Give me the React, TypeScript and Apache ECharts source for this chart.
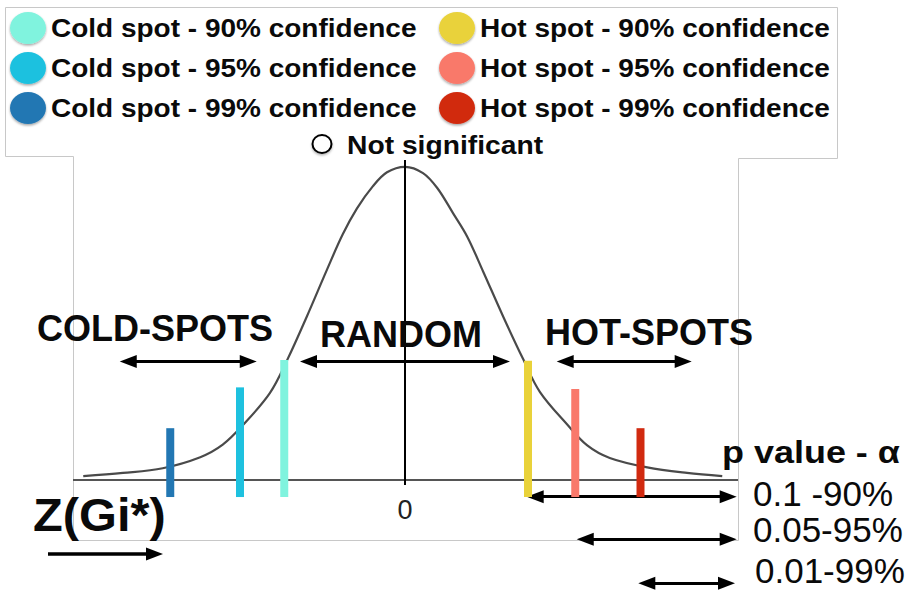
import React, { useEffect, useRef } from "react";
import * as echarts from "echarts";

// ---- data ----
// bell curve: z score and height of the curve
const curveZ = [-4.29, -3.76, -3.23, -2.73, -2.43, -2.16, -1.8, -1.57, -1.31, -1.04, -0.83, -0.64, -0.43, -0.24, 0, 0.24, 0.43, 0.64, 0.83, 1.04, 1.31, 1.57, 1.8, 2.16, 2.43, 2.73, 3.23, 3.76, 4.23];
const curveH = [0.005, 0.009, 0.015, 0.029, 0.045, 0.07, 0.111, 0.153, 0.208, 0.268, 0.313, 0.346, 0.374, 0.392, 0.399, 0.391, 0.372, 0.34, 0.31, 0.266, 0.208, 0.155, 0.112, 0.071, 0.044, 0.028, 0.016, 0.009, 0.005];

// confidence bars (90%, 95%, 99%)
const legendCold = ["Cold spot - 90% confidence", "Cold spot - 95% confidence", "Cold spot - 99% confidence"];
const legendHot = ["Hot spot - 90% confidence", "Hot spot - 95% confidence", "Hot spot - 99% confidence"];
const notSignificant = "Not significant";
const coldZ = [-1.61, -2.2, -3.13];
const hotZ = [1.64, 2.27, 3.14];
const coldTop = [0.153, 0.118, 0.066];
const hotTop = [0.152, 0.116, 0.066];
const barBottom = -0.0217;

// texts
const zeroTick = "0";
const regionLabels = ["COLD-SPOTS", "RANDOM", "HOT-SPOTS"];
const pTitle = "p value - α";
const pLabels = ["0.1 -90%", "0.05-95%", "0.01-99%"];
const axisTitle = "Z(Gi*)";

// ---- styles ----
const coldColors = ["#80f3de", "#1ec1df", "#2277b3"];
const hotColors = ["#e9d23a", "#f9796b", "#d12a10"];
const FONT = '"Liberation Sans", Arial, Helvetica, sans-serif';
const PX = 75; // px per z unit
const PY = 785; // px per height unit

function txt(text: string, x: number, y: number, size: number, bold: boolean, scaleX = 1) {
  return {
    type: "text",
    x,
    y,
    scaleX,
    z: 10,
    style: {
      text,
      fill: "#0a0a0a",
      fontSize: size,
      fontWeight: bold ? "bold" : "normal",
      fontFamily: FONT,
      textAlign: "left",
      verticalAlign: "middle",
      textVerticalAlign: "middle",
    },
  };
}

function dot(cx: number, cy: number, fill: string) {
  return {
    type: "ellipse",
    z: 10,
    shape: { cx, cy, rx: 18, ry: 16 },
    style: { fill, shadowBlur: 2, shadowColor: "rgba(0,0,0,0.35)", shadowOffsetY: 1.5 },
  };
}

function barSeries(name: string, z: number, top: number, color: string) {
  return {
    type: "custom",
    name,
    z: 5,
    clip: false,
    data: [[z, barBottom, top]],
    encode: { x: 0, y: [1, 2] },
    renderItem: (_p: any, api: any) => {
      const a = api.coord([api.value(0), api.value(2)]);
      const b = api.coord([api.value(0), api.value(1)]);
      return {
        type: "rect",
        shape: { x: a[0] - 4, y: a[1], width: 8, height: b[1] - a[1] },
        style: { fill: color },
      };
    },
  };
}

export default function App() {
  const ref = useRef<HTMLDivElement>(null);
  useEffect(() => {
    if (!ref.current) return;
    const chart = echarts.init(ref.current, undefined, { renderer: "svg" });
    const xMin = -405 / PX;
    const xMax = 510 / PX;
    const yMax = 480 / PY;
    const yMin = -110 / PY;
    const frameL = -332 / PX;
    const frameR = 333 / PX;

    const arrowStyle = { color: "#000", width: 3, type: "solid" as const };
    const arrows = [
      [-3.69, -2.09, 0.151],
      [-1.287, 1.287, 0.151],
      [2.136, 3.709, 0.151],
      [1.736, 4.309, -0.0213],
      [2.403, 4.309, -0.0756],
      [3.224, 4.287, -0.1316],
    ].map(([a, b, y]) => [
      { coord: [a, y], lineStyle: arrowStyle },
      { coord: [b, y] },
    ]);

    const graphic: any[] = [
      {
        type: "polyline",
        z: 0,
        shape: {
          points: [
            [5.5, 7.5], [837.5, 7.5], [837.5, 158.5], [738.5, 158.5], [738.5, 540.5],
            [73.5, 540.5], [73.5, 156.5], [5.5, 156.5], [5.5, 7.5],
          ],
        },
        style: { stroke: "#c8c8c8", lineWidth: 1, fill: null },
      },
    ];
    const rowsY = [29, 69, 109];
    legendCold.forEach((t, i) => {
      graphic.push(dot(28, rowsY[i] - 1, coldColors[i]));
      graphic.push(txt(t, 51, rowsY[i], 25, true, 1.12));
    });
    legendHot.forEach((t, i) => {
      graphic.push(dot(457, rowsY[i] - 1, hotColors[i]));
      graphic.push(txt(t, 480, rowsY[i], 25, true, 1.12));
    });
    graphic.push({
      type: "ellipse",
      z: 10,
      shape: { cx: 322, cy: 144, rx: 9.5, ry: 9 },
      style: { fill: "#fff", stroke: "#000", lineWidth: 2, shadowBlur: 2, shadowColor: "rgba(0,0,0,0.3)", shadowOffsetY: 1.5 },
    });
    graphic.push(txt(notSignificant, 347, 146, 25, true, 1.13));
    graphic.push(txt(regionLabels[0], 37, 328.5, 36, true));
    graphic.push(txt(regionLabels[1], 320, 334, 36, true));
    graphic.push(txt(regionLabels[2], 545, 332.5, 36, true));
    graphic.push(txt(pTitle, 722, 452.5, 31, true, 1.16));
    graphic.push(txt(pLabels[0], 753, 493.5, 35, false));
    graphic.push(txt(pLabels[1], 753, 529.5, 35, false));
    graphic.push(txt(pLabels[2], 755, 570.5, 35, false));
    graphic.push(txt(axisTitle, 33, 515, 46, true, 1.06));

    const series: any[] = [
      {
        type: "line",
        name: "Z(Gi*) distribution",
        data: curveZ.map((z, i) => [z, curveH[i]]),
        smooth: 0.35,
        showSymbol: false,
        clip: false,
        z: 3,
        lineStyle: { color: "#4a4a4a", width: 2.2 },
        markLine: {
          silent: true,
          animation: false,
          symbol: ["triangle", "triangle"],
          symbolSize: [13, 17],
          label: { show: false },
          data: [
            [
              { coord: [frameL, 0], symbol: "none", lineStyle: { color: "#555", width: 2, type: "solid" } },
              { coord: [frameR, 0], symbol: "none" },
            ],
            [
              {
                coord: [0, -0.0064],
                symbol: "none",
                lineStyle: { color: "#000", width: 2, type: "solid" },
                label: {
                  show: true,
                  position: "start",
                  distance: 11,
                  formatter: zeroTick,
                  fontSize: 27,
                  color: "#222",
                  fontFamily: FONT,
                },
              },
              { coord: [0, 0.4076], symbol: "none" },
            ],
            ...arrows,
            [
              { coord: [-4.76, -0.0943], symbol: "none", lineStyle: { color: "#000", width: 3.5, type: "solid" } },
              { coord: [-3.34, -0.0943] },
            ],
          ],
        },
      },
      ...legendCold.map((n, i) => barSeries(n, coldZ[i], coldTop[i], coldColors[i])),
      ...legendHot.map((n, i) => barSeries(n, hotZ[i], hotTop[i], hotColors[i])),
      {
        type: "custom",
        name: notSignificant,
        data: [],
        renderItem: () => null,
      },
    ];

    chart.setOption({
      animation: false,
      backgroundColor: "#fff",
      grid: { left: 0, right: 0, top: 0, bottom: 0, containLabel: false, outerBoundsMode: "none" },
      xAxis: {
        type: "value",
        min: xMin,
        max: xMax,
        axisLine: { show: false },
        axisTick: { show: false },
        axisLabel: { show: false },
        splitLine: { show: false },
      },
      yAxis: {
        type: "value",
        min: yMin,
        max: yMax,
        show: false,
        splitLine: { show: false },
      },
      graphic,
      series,
    });
    return () => chart.dispose();
  }, []);
  return (
    <div
      ref={ref}
      style={{ position: "fixed", left: 0, top: 0, width: 915, height: 590, background: "#fff" }}
    />
  );
}
